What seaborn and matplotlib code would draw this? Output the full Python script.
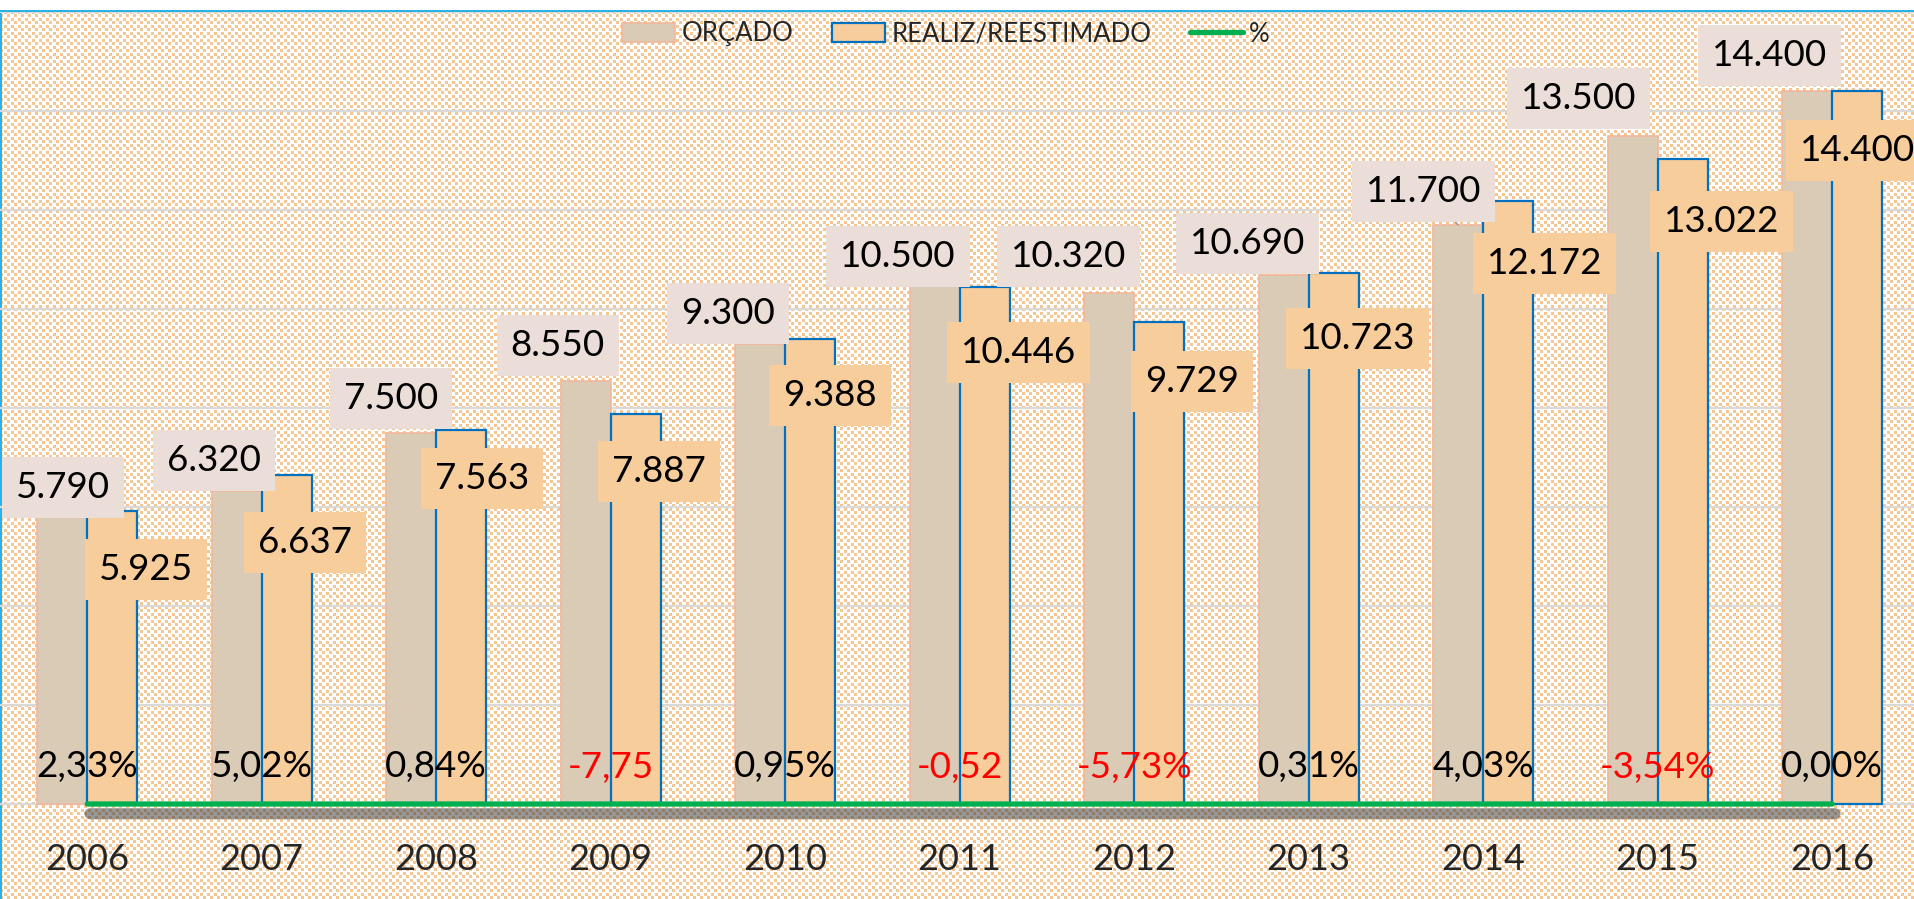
import numpy as np
import pandas as pd
import matplotlib
matplotlib.use("Agg")
import matplotlib.pyplot as plt
import seaborn as sns
from matplotlib import patheffects as pe
from matplotlib.patches import Patch
from matplotlib.lines import Line2D

# ---------------- data ----------------
anos = ["2006", "2007", "2008", "2009", "2010", "2011", "2012", "2013", "2014", "2015", "2016"]
orcado = [5790, 6320, 7500, 8550, 9300, 10500, 10320, 10690, 11700, 13500, 14400]
realiz = [5925, 6637, 7563, 7887, 9388, 10446, 9729, 10723, 12172, 13022, 14400]
pct = [2.33, 5.02, 0.84, -7.75, 0.95, -0.52, -5.73, 0.31, 4.03, -3.54, 0.00]
pct_labels = ["2,33%", "5,02%", "0,84%", "-7,75", "0,95%", "-0,52", "-5,73%",
              "0,31%", "4,03%", "-3,54%", "0,00%"]
series_names = ["ORÇADO", "REALIZ/REESTIMADO", "%"]

# ---------------- layout (label offsets in pixels from bar top centre) ----------------
orc_off = [(1, 33), (-23, 34), (-20, 37), (-28, 38), (-32, 33), (-37, 31),
           (-41, 40), (-36, 34), (-35, 36), (-54, 40), (-38, 39)]
real_off = [(34, -56), (18, -64), (21, -46), (23, -55), (20, -53), (34, -63),
            (33, -56), (24, -62), (36, -59), (39, -59), (0, -56)]
leader = [False] * 8 + [True] + [False] * 2

C_ORC = "#D9CBB5"
C_ORC_EDGE = "#F2B79C"
C_REAL = "#F8CD9C"
C_REAL_EDGE = "#0070C0"
C_ORC_BOX = "#EBDDD8"
C_GREEN = "#00B050"

W, H, DPI = 1915, 899, 100
PX2PT = 72 / DPI

sns.set_style("white")
plt.rcParams["font.family"] = ["Lato", "DejaVu Sans"]

fig = plt.figure(figsize=(W / DPI, H / DPI), dpi=DPI)

# background texture (dotted pattern), borders
bg = np.ones((H, W, 3))
tile = np.zeros((7, 7), bool)
tile[0:3, 0:3] = True
tile[4:7, 4:7] = True
mask = np.tile(tile, (H // 7 + 1, W // 7 + 1))[:H, :W]
mask[:12, :] = False
bg[mask] = np.array([246, 198, 146]) / 255
cyan = np.array([41, 178, 230]) / 255
bg[10:12, :] = cyan
bg[10:, 0:2] = cyan
fig.figimage(bg, xo=0, yo=0, zorder=-5, origin="upper")

px_base, px_top, px_bottom = 804, 12, 830
ppu = (px_base - px_top) / 16000.0
ymin = -(px_bottom - px_base) / ppu
ax = fig.add_axes([0, (H - px_bottom) / H, 1, (px_bottom - px_top) / H])
ax.set_facecolor("none")

df = pd.DataFrame({
    "ano": anos * 2,
    "valor": orcado + realiz,
    "serie": [series_names[0]] * len(anos) + [series_names[1]] * len(anos),
})
sns.barplot(data=df, x="ano", y="valor", hue="serie", hue_order=series_names[:2],
            palette=[C_ORC, C_REAL], width=0.573, gap=0, saturation=1,
            errorbar=None, legend=False, ax=ax, zorder=2)

for bar in ax.containers[0]:
    bar.set_edgecolor(C_ORC_EDGE)
    bar.set_linewidth(1.2)
for bar in ax.containers[1]:
    bar.set_edgecolor(C_REAL_EDGE)
    bar.set_linewidth(1.6)

# % series (tiny fractions on the value axis -> flat line at baseline)
pct_frac = np.array(pct) / 100.0
sns.lineplot(x=np.arange(len(anos)), y=pct_frac, ax=ax, color=C_GREEN, lw=3.8,
             solid_capstyle="round", zorder=4,
             path_effects=[pe.SimpleLineShadow(offset=(2, -7), shadow_color="#333333",
                                               alpha=0.5, linewidth=8),
                           pe.Normal()])

FS = 26.5
# value labels
for i, bar in enumerate(ax.containers[0]):
    xc = bar.get_x() + bar.get_width() / 2
    top = bar.get_height()
    dx, dy = orc_off[i]
    kw = {}
    if leader[i]:
        kw["arrowprops"] = dict(arrowstyle="-", color="#A0A0A0", lw=1.2,
                                shrinkA=0, shrinkB=0)
    ax.annotate(f"{orcado[i]:,}".replace(",", "."), xy=(xc, top),
                xytext=(dx * PX2PT, dy * PX2PT), textcoords="offset points",
                ha="center", va="center_baseline", fontsize=FS, color="black", zorder=6,
                bbox=dict(boxstyle="square,pad=0.38", fc=C_ORC_BOX, ec="none"), **kw)
for i, bar in enumerate(ax.containers[1]):
    xc = bar.get_x() + bar.get_width() / 2
    top = bar.get_height()
    dx, dy = real_off[i]
    ax.annotate(f"{realiz[i]:,}".replace(",", "."), xy=(xc, top),
                xytext=(dx * PX2PT, dy * PX2PT), textcoords="offset points",
                ha="center", va="center_baseline", fontsize=FS, color="black", zorder=6,
                bbox=dict(boxstyle="square,pad=0.38", fc=C_REAL, ec="none"))

# percentage labels
for i, (v, lab) in enumerate(zip(pct_frac, pct_labels)):
    ax.annotate(lab, xy=(i, v), xytext=(0, 40 * PX2PT), textcoords="offset points",
                ha="center", va="center_baseline", fontsize=FS,
                color="#FF0000" if pct[i] < 0 else "black", zorder=6)

ax.set_xlim(-0.5, -0.5 + W / 174.5)
ax.set_ylim(ymin, 16000)
ax.set_yticks(range(0, 16001, 2000))
ax.tick_params(axis="y", left=False, labelleft=False)
ax.tick_params(axis="x", length=0, pad=9, labelsize=26)
ax.grid(axis="y", color="#D9D9D9", lw=1.6)
ax.grid(axis="x", visible=False)
ax.set_axisbelow(True)
ax.set_xlabel("")
ax.set_ylabel("")
for s in ax.spines.values():
    s.set_visible(False)

handles = [
    Patch(facecolor=C_ORC, edgecolor=C_ORC_EDGE, linewidth=1.2),
    Patch(facecolor=C_REAL, edgecolor=C_REAL_EDGE, linewidth=1.6),
    Line2D([0], [0], color=C_GREEN, lw=3.8, solid_capstyle="round"),
]
fig.legend(handles, series_names, loc="center", bbox_to_anchor=(946 / W, 1 - 34 / H),
           ncol=3, frameon=False, fontsize=18.5, handlelength=2.06, handleheight=0.78,
           handletextpad=0.25, columnspacing=1.5)

fig.savefig("out.png", dpi=DPI)
